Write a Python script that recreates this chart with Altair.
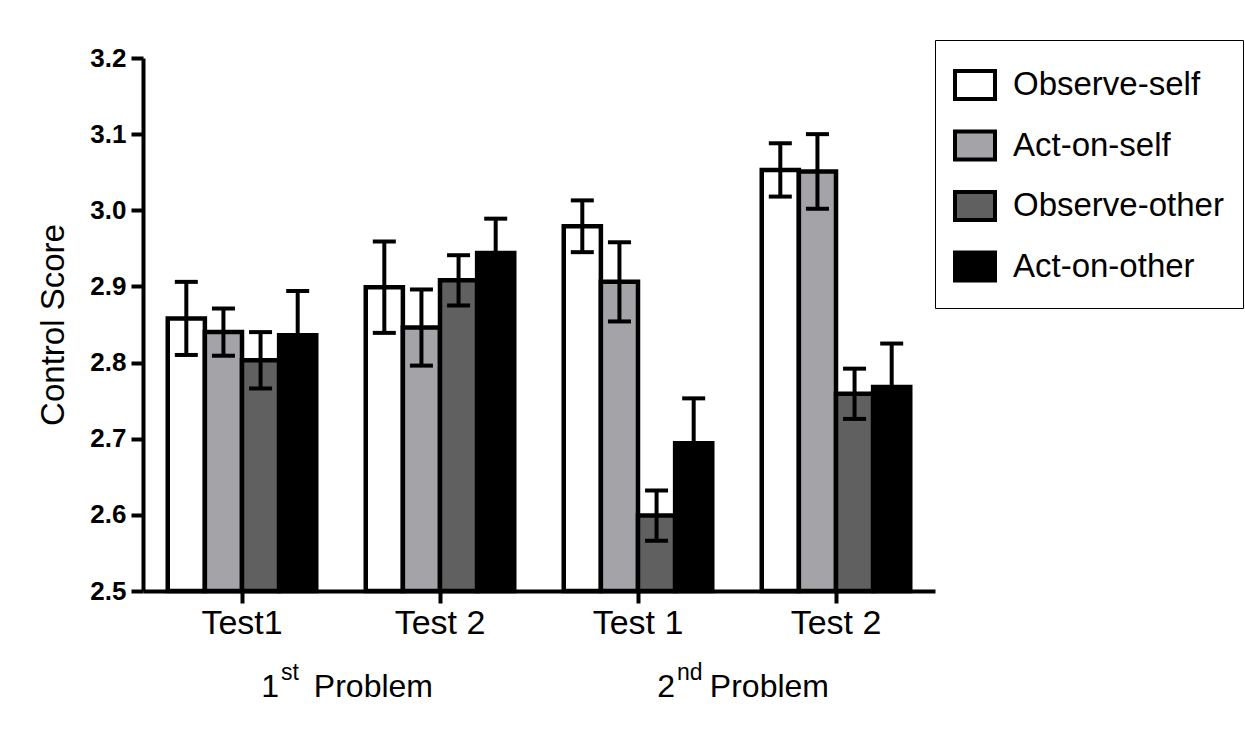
import altair as alt
import pandas as pd

# ---- data ----
tests = ["P1T1", "P1T2", "P2T1", "P2T2"]
test_labels = ["Test1", "Test 2", "Test 1", "Test 2"]
conditions = ["Observe-self", "Act-on-self", "Observe-other", "Act-on-other"]
colors = ["#ffffff", "#a4a4a8", "#606060", "#000000"]

observe_self = [2.858, 2.899, 2.979, 3.053]
observe_self_err = [0.048, 0.060, 0.034, 0.035]
act_on_self = [2.840, 2.846, 2.906, 3.051]
act_on_self_err = [0.031, 0.050, 0.052, 0.049]
observe_other = [2.803, 2.908, 2.599, 2.759]
observe_other_err = [0.037, 0.033, 0.033, 0.033]
act_on_other = [2.836, 2.944, 2.694, 2.768]
act_on_other_err = [0.058, 0.045, 0.059, 0.057]

y_min, y_max = 2.5, 3.2
y_ticks = [2.5, 2.6, 2.7, 2.8, 2.9, 3.0, 3.1, 3.2]

problem_numbers = ["1", "2"]
problem_sups = ["st", "nd"]
problem_anchor = ["P1T2", "P2T2"]
problem_word = "Problem"

# ---- tables ----
rows = []
for cond, means, errs in zip(
    conditions,
    [observe_self, act_on_self, observe_other, act_on_other],
    [observe_self_err, act_on_self_err, observe_other_err, act_on_other_err],
):
    for t, m, e in zip(tests, means, errs):
        rows.append(dict(test=t, condition=cond, mean=m, err=e,
                         lo=m - e, hi=m + e, base=y_min))
df = pd.DataFrame(rows)

prob_df = pd.DataFrame(dict(test=problem_anchor, num=problem_numbers,
                            sup=problem_sups, word=[problem_word] * 2))

FONT = "Liberation Sans"
W, H = 792, 533

label_expr = "[{}][indexof([{}], datum.value)]".format(
    ", ".join("'%s'" % l for l in test_labels),
    ", ".join("'%s'" % t for t in tests),
)

x_scale = alt.Scale(domain=tests, paddingInner=0.25, paddingOuter=0.125)
x_axis = alt.Axis(title=None, labelExpr=label_expr, labelAngle=0,
                  labelFontSize=34, labelFont=FONT, labelColor="black",
                  tickSize=12, tickWidth=4, tickColor="black",
                  domainWidth=4, domainColor="black", labelPadding=3,
                  grid=False)
x_enc = alt.X("test:N", sort=tests, scale=x_scale, axis=x_axis)
xo_enc = alt.XOffset("condition:N", sort=conditions,
                     scale=alt.Scale(domain=conditions, paddingInner=0, paddingOuter=0))

y_scale = alt.Scale(domain=[y_min, y_max], nice=False, zero=False)
y_axis = alt.Axis(values=y_ticks, format=".1f", title="Control Score",
                  titleFontSize=33, titleFontWeight="normal", titleFont=FONT,
                  titleColor="black", titlePadding=19,
                  labelFontSize=26, labelFontWeight="bold", labelFont=FONT,
                  labelColor="black", tickSize=12, tickWidth=4, tickColor="black",
                  domainWidth=4, domainColor="black", labelPadding=5, grid=False)

color_enc = alt.Color(
    "condition:N", sort=conditions,
    scale=alt.Scale(domain=conditions, range=colors),
    legend=alt.Legend(title=None, orient="none", legendX=W, legendY=-18,
                      symbolType="M-0.8333,-0.5833H0.8333V0.5833H-0.8333Z",
                      symbolSize=2304, symbolOffset=-5,
                      symbolStrokeWidth=4, symbolStrokeColor="black",
                      symbolOpacity=1,
                      labelFontSize=33, labelFont=FONT, labelColor="black",
                      labelOffset=12, rowPadding=12.5, padding=19,
                      strokeColor="black", fillColor="white", labelLimit=400),
)

bars = alt.Chart(df).mark_bar(stroke="black", strokeWidth=4.5, opacity=1).encode(
    x=x_enc, xOffset=xo_enc,
    y=alt.Y("mean:Q", scale=y_scale, axis=y_axis),
    y2="base:Q",
    color=color_enc,
)

rules = alt.Chart(df).mark_rule(color="black", strokeWidth=4).encode(
    x=x_enc, xOffset=xo_enc, y=alt.Y("lo:Q", scale=y_scale, axis=y_axis), y2="hi:Q",
)
cap_hi = alt.Chart(df).mark_tick(color="black", thickness=4, size=23, opacity=1).encode(
    x=x_enc, xOffset=xo_enc, y=alt.Y("hi:Q", scale=y_scale, axis=y_axis),
)
cap_lo = alt.Chart(df).mark_tick(color="black", thickness=4, size=23, opacity=1).encode(
    x=x_enc, xOffset=xo_enc, y=alt.Y("lo:Q", scale=y_scale, axis=y_axis),
)

# group labels: anchored on the band centre of each problem's "Test 2"
num_text = alt.Chart(prob_df).mark_text(
    align="right", baseline="alphabetic", fontSize=32, font=FONT, color="black", dx=-161,
).encode(x=x_enc, y=alt.value(639), text="num:N")
sup_text = alt.Chart(prob_df).mark_text(
    align="left", baseline="alphabetic", fontSize=23, font=FONT, color="black", dx=-159,
).encode(x=x_enc, y=alt.value(622), text="sup:N")
word_text = alt.Chart(prob_df).mark_text(
    align="right", baseline="alphabetic", fontSize=32, font=FONT, color="black", dx=-7,
).encode(x=x_enc, y=alt.value(639), text="word:N")

chart = alt.layer(bars, rules, cap_hi, cap_lo, num_text, sup_text, word_text).properties(
    width=W, height=H,
    padding={"left": 143, "top": 58, "right": 310, "bottom": 152},
    autosize=alt.AutoSizeParams(type="none"),
    background="white",
).configure_view(strokeWidth=0, stroke="transparent").configure_axis(
    grid=False
).configure_legend(strokeWidth=2.5).configure(
    font=FONT, style={"cell": {"stroke": "transparent", "strokeWidth": 0}}
)

chart.save("out.html", embed_options={"renderer": "svg", "actions": False})
